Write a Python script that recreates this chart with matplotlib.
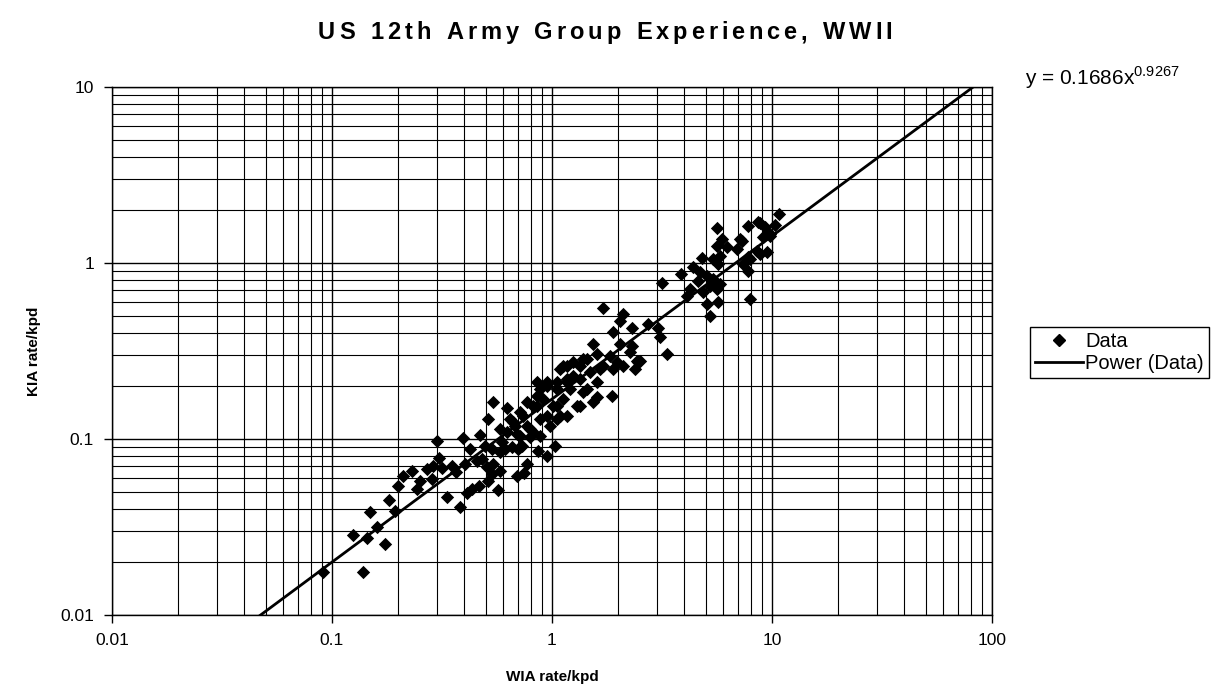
import numpy as np
import matplotlib
matplotlib.use('Agg')
import matplotlib.pyplot as plt
from matplotlib.lines import Line2D

plt.rcParams['font.family'] = ['Liberation Sans', 'DejaVu Sans']
plt.rcParams['mathtext.fontset'] = 'custom'
plt.rcParams['mathtext.rm'] = 'Liberation Sans'
plt.rcParams['mathtext.bf'] = 'Liberation Sans:bold'

# WIA rate/kpd (x) and KIA rate/kpd (y)
wia = [
    0.091, 0.138, 0.125, 0.144, 0.160, 0.174, 0.149, 0.182, 0.193, 0.200,
    0.210, 0.231, 0.243, 0.251, 0.270, 0.285, 0.300, 0.306, 0.288, 0.316,
    0.333, 0.351, 0.366, 0.382, 0.394, 0.402, 0.411, 0.424, 0.433, 0.471,
    0.466, 0.481, 0.496, 0.512, 0.507, 0.534, 0.539, 0.568, 0.580, 0.593,
    0.611, 0.624, 0.512, 0.693, 0.700, 0.746, 0.770, 0.731, 0.693, 0.794,
    0.864, 0.949, 1.032, 0.456, 0.539, 0.534, 0.580, 0.658, 0.715, 0.624,
    0.679, 0.738, 0.820, 0.794, 0.882, 0.882, 0.979, 1.087, 1.054, 0.882,
    0.949, 1.054, 1.170, 1.122, 1.246, 1.246, 0.855, 0.770, 0.715, 0.644,
    0.580, 0.665, 0.770, 0.715, 0.820, 0.949, 0.855, 0.910, 1.010, 0.949,
    0.855, 1.122, 1.340, 1.601, 1.874, 1.207, 1.443, 1.601, 1.170, 1.054,
    1.340, 1.488, 1.087, 1.170, 1.340, 1.443, 1.706, 1.893, 2.384, 2.434,
    2.102, 1.975, 1.835, 1.601, 1.536, 2.038, 2.310, 3.332, 3.097, 3.033,
    2.731, 1.893, 2.310, 2.102, 1.706, 2.038, 2.262, 2.460, 1.383, 1.653,
    1.383, 1.536, 1.299, 1.170, 1.054, 2.512, 3.162, 3.857, 4.375, 4.806,
    5.623, 5.928, 5.623, 6.240, 7.154, 6.935, 7.780, 8.635, 9.294, 10.76,
    10.32, 5.800, 5.395, 5.683, 4.707, 5.064, 5.395, 5.224, 4.610, 4.239,
    4.108, 4.856, 5.623, 5.800, 5.064, 5.683, 5.224, 7.943, 7.780, 7.380,
    7.943, 8.820, 9.490, 9.100, 9.790, 7.300, 8.550, 7.780, 8.820, 9.790,
]
kia = [
    0.0176, 0.0176, 0.0285, 0.0274, 0.0316, 0.0253, 0.0385, 0.0450, 0.0390, 0.0540,
    0.0616, 0.0658, 0.0520, 0.0577, 0.0676, 0.0593, 0.0974, 0.0780, 0.0703, 0.0685,
    0.0468, 0.0703, 0.0650, 0.0411, 0.1010, 0.0721, 0.0493, 0.0878, 0.0520, 0.1054,
    0.0540, 0.0770, 0.0912, 0.0577, 0.0693, 0.0878, 0.1620, 0.0513, 0.0658, 0.0961,
    0.0878, 0.1500, 0.1300, 0.0616, 0.0878, 0.0641, 0.0721, 0.0912, 0.1067, 0.1026,
    0.0855, 0.0800, 0.0912, 0.0750, 0.0721, 0.0633, 0.0844, 0.0901, 0.0901, 0.1096,
    0.1186, 0.1350, 0.1540, 0.1140, 0.1300, 0.1040, 0.1186, 0.1350, 0.1540, 0.1920,
    0.2110, 0.1920, 0.2110, 0.2600, 0.2740, 0.2280, 0.1760, 0.1620, 0.1420, 0.1300,
    0.1140, 0.1250, 0.1186, 0.1040, 0.1096, 0.1350, 0.1540, 0.1690, 0.1540, 0.2000,
    0.2110, 0.1690, 0.1540, 0.1730, 0.1760, 0.1920, 0.1920, 0.2110, 0.2190, 0.2110,
    0.2190, 0.2400, 0.2500, 0.2600, 0.2600, 0.2850, 0.2600, 0.2500, 0.2500, 0.2780,
    0.2600, 0.2740, 0.2960, 0.3040, 0.3470, 0.3470, 0.3380, 0.3040, 0.3800, 0.4270,
    0.4500, 0.4060, 0.4270, 0.5130, 0.5550, 0.4680, 0.3120, 0.2740, 0.2850, 0.2500,
    0.1850, 0.1620, 0.1540, 0.1350, 0.1300, 0.2780, 0.7700, 0.8660, 0.9490, 1.0680,
    1.5800, 1.3690, 1.2490, 1.2330, 1.3690, 1.2010, 1.6230, 1.7100, 1.6010, 1.8980,
    1.6430, 1.0960, 1.0540, 0.9870, 0.8890, 0.8440, 0.8110, 0.7400, 0.7900, 0.7110,
    0.6490, 0.6840, 0.7110, 0.7600, 0.5850, 0.6000, 0.5000, 0.6240, 0.9010, 0.9870,
    1.0540, 1.1250, 1.1550, 1.4050, 1.4240, 1.3330, 1.1700, 1.0820, 1.6870, 1.4620,
]

# power trendline y = a * x^b
coef_a = 0.1686
coef_b = 0.9267

title = 'US 12th Army Group Experience, WWII'


def spaced_text(fig, text, x0, x1, y, **kw):
    # draw text char by char, spread to fill the span x0..x1 (figure fraction)
    renderer = fig.canvas.get_renderer()
    fw = fig.get_figwidth() * fig.dpi
    widths = []
    for ch in text:
        t = fig.text(0, 0, ch if ch != ' ' else 'n', **kw)
        bb = t.get_window_extent(renderer)
        w = bb.width if ch != ' ' else bb.width * 0.55
        widths.append(w / fw)
        t.remove()
    extra = (x1 - x0 - sum(widths)) / (len(text) - 1)
    x = x0
    for ch, w in zip(text, widths):
        fig.text(x, y, ch, ha='left', va='center', **kw)
        x += w + extra


fig = plt.figure(figsize=(12.17, 6.98), dpi=100)
ax = fig.add_axes([0.092, 0.119, 0.723, 0.756])

ax.set_xscale('log')
ax.set_yscale('log')
ax.set_xlim(0.01, 100)
ax.set_ylim(0.01, 10)

ax.grid(True, which='major', color='black', linewidth=1.0)
ax.grid(True, which='minor', color='black', linewidth=0.8)
ax.set_axisbelow(True)

ax.scatter(wia, kia, marker='D', s=46, color='black', linewidths=0, zorder=3)

xfit = np.logspace(-2, 2, 200)
ax.plot(xfit, coef_a * xfit ** coef_b, color='black', linewidth=2.0, zorder=4)

ax.set_xticks([0.01, 0.1, 1, 10, 100])
ax.set_xticklabels(['0.01', '0.1', '1', '10', '100'])
ax.set_yticks([0.01, 0.1, 1, 10])
ax.set_yticklabels(['0.01', '0.1', '1', '10'])
ax.tick_params(which='major', direction='out', length=6, width=1, labelsize=12.5, pad=7)
ax.tick_params(which='minor', length=0)
for sp in ax.spines.values():
    sp.set_color('black')
    sp.set_linewidth(1.0)

ax.set_xlabel('WIA rate/kpd', fontsize=11, fontweight='bold', labelpad=16)
ax.set_ylabel('KIA rate/kpd', fontsize=11, fontweight='bold', labelpad=14)

spaced_text(fig, title, 318 / 1217, 892 / 1217, 0.953, fontsize=17, fontweight='bold')

fig.text(1025 / 1217, 0.889, r'y = 0.1686x$^{\mathregular{0.9267}}$', ha='left', va='center',
         fontsize=15)

handles = [Line2D([], [], marker='D', color='black', linestyle='none', markersize=6),
           Line2D([], [], color='black', linewidth=2)]
leg = fig.legend(handles, ['Data', 'Power (Data)'], loc='upper left',
                 bbox_to_anchor=(0.846, 0.532), fancybox=False, framealpha=1,
                 edgecolor='black', fontsize=14.5, handlelength=2.4, handletextpad=0.1,
                 borderpad=0.25, labelspacing=0.15, borderaxespad=0)
leg.get_frame().set_linewidth(1.0)

fig.savefig('out.png', dpi=100)
